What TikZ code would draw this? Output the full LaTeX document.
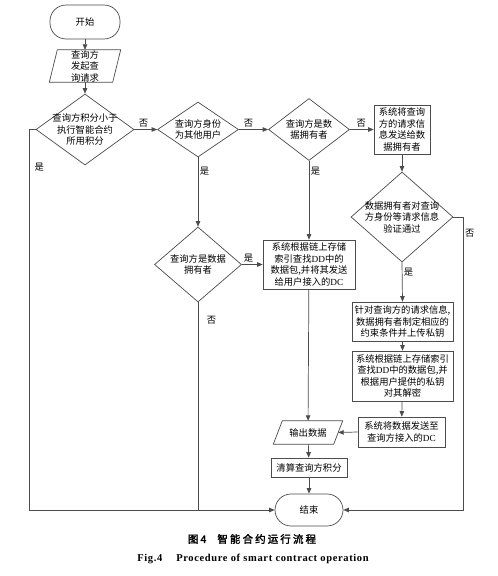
\documentclass[tikz,border=0pt]{standalone}
\usepackage{fontspec}
\setmainfont{Noto Sans CJK SC}
\newfontfamily\serif{Liberation Serif}
\newfontfamily\capcjk[AutoFakeBold=2,LetterSpace=20]{Noto Sans CJK SC}
\newfontfamily\capen[LetterSpace=6]{Liberation Serif}
\usetikzlibrary{shapes.geometric,arrows.meta}
\definecolor{lc}{gray}{0.3}
\newcommand\tx[1]{\smash{\makebox[0pt]{\raisebox{-3.5pt}{\begin{tabular}{@{}c@{}}#1\end{tabular}}}}}
\begin{document}
\begin{tikzpicture}[x=1pt,y=-1pt,
  every node/.style={font=\fontsize{9.3}{11.5}\selectfont, text=black},
  base/.style={draw=lc, line width=0.7pt, inner sep=0pt},
  proc/.style={base, rectangle},
  term/.style={base, rectangle, rounded corners=16pt},
  dec/.style={base, diamond},
  io/.style={rectangle, inner sep=0pt},
  link/.style={draw=lc, line width=0.7pt},
  arr/.style={link, -{Triangle[length=5.5pt,width=4.5pt]}},
  lab/.style={inner sep=1.5pt}
]
\fill[white] (0,0) rectangle (498,576);
\useasboundingbox (0,0) rectangle (498,576);

\node[term, minimum width=70, minimum height=34] (start) at (85,22) {\tx{开始}};
\node[io, minimum width=63, minimum height=32] (q) at (85,66) {\tx{查询方\\发起查\\询请求}};
\draw[link] ([xshift=4pt]q.north west) -- ([xshift=4pt]q.north east) -- ([xshift=-4pt]q.south east) -- ([xshift=-4pt]q.south west) -- cycle;
\node[dec, minimum width=98, minimum height=71] (d1) at (85,129.5) {\tx{查询方积分小于\\执行智能合约\\所用积分}};
\node[dec, minimum width=81, minimum height=55] (d2) at (198,129.5) {\tx{查询方身份\\为其他用户}};
\node[dec, minimum width=81, minimum height=62] (d3) at (309,129.5) {\tx{查询方是数\\据拥有者}};
\node[proc, minimum width=56, minimum height=49] (b1) at (402,129.5) {\tx{系统将查询\\方的请求信\\息发送给数\\据拥有者}};
\node[dec, minimum width=102, minimum height=90] (d4) at (402,217) {\tx{数据拥有者对查询\\方身份等请求信息\\验证通过}};
\node[proc, minimum width=101, minimum height=39] (b2) at (402.5,321.5) {\tx{针对查询方的请求信息,\\数据拥有者制定相应的\\约束条件并上传私钥}};
\node[proc, minimum width=101, minimum height=50] (b3) at (402.5,376) {\tx{系统根据链上存储索引\\查找{\serif DD}中的数据包,并\\根据用户提供的私钥\\对其解密}};
\node[proc, minimum width=87, minimum height=30] (b4) at (401.5,432) {\tx{系统将数据发送至\\查询方接入的{\serif DC}}};
\node[proc, minimum width=92, minimum height=49] (dd) at (309,264.5) {\tx{系统根据链上存储\\索引查找{\serif DD}中的\\数据包,并将其发送\\给用户接入的{\serif DC}}};
\node[dec, minimum width=87, minimum height=75] (d5) at (198,264.5) {\tx{查询方是数据\\拥有者}};
\node[io, minimum width=60, minimum height=23] (out) at (308,432.5) {\tx{输出数据}};
\draw[link] ([xshift=4.5pt]out.north west) -- ([xshift=4.5pt]out.north east) -- ([xshift=-4.5pt]out.south east) -- ([xshift=-4.5pt]out.south west) -- cycle;
\node[proc, minimum width=76, minimum height=19] (clr) at (309,467.5) {\tx{清算查询方积分}};
\node[term, minimum width=68, minimum height=32] (end) at (309,510) {\tx{结束}};

\draw[arr] (start) -- (q);
\draw[arr] (q) -- (d1);
\draw[arr] (d1.east) -- node[lab, above, pos=0.4]{否} (d2.west);
\draw[arr] (d2.east) -- node[lab, above, pos=0.33]{否} (d3.west);
\draw[arr] (d3.east) -- node[lab, above, pos=0.48]{否} (b1.west);
\draw[arr] (b1) -- (d4);
\draw[arr] (d4.south) -- node[lab, right, pos=0.25]{是} (b2.north);
\draw[arr] (b2) -- (b3);
\draw[arr] (b3) -- (b4);
\draw[arr] (b4.west) -- (out.east);
\draw[arr] (out) -- (clr);
\draw[arr] (clr) -- (end);
\draw[arr] (d3.south) -- node[lab, right, pos=0.13]{是} (dd.north);
\draw[arr] (dd) -- (out);
\draw[arr] (d2.south) -- node[lab, right, pos=0.2]{是} (d5.north);
\draw[arr] (d5.east) -- node[lab, above, pos=0.32]{是} (dd.west);
\draw[link] (d5.south) -- node[lab, right=7pt, pos=0.087]{否} (d5.south |- end.west);
\draw[arr] (d1.west) -- ++(-6,0) |- node[lab, right=3pt, pos=0.05]{是} (end.west);
\draw[arr] (d4.east) -- ++(10,0) |- node[lab, right, pos=0.027]{否} (end.east);

\node (cap1) at (252,539) {\fontsize{10.5}{12}\selectfont\capcjk\bfseries 图4\hspace{11pt}智能合约运行流程};
\node (cap2) at (253,559) {\fontsize{10.5}{12}\selectfont\capen\bfseries Fig.4\hspace{14pt}Procedure of smart contract operation};
\end{tikzpicture}
\end{document}
